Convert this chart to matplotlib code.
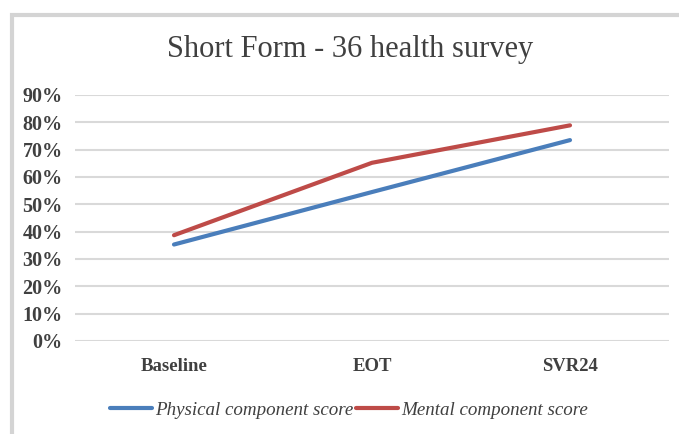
import matplotlib
matplotlib.use("Agg")
import matplotlib.pyplot as plt
from matplotlib.patches import Rectangle
from matplotlib.ticker import FuncFormatter

categories = ["Baseline", "EOT", "SVR24"]
physical = [0.353, 0.545, 0.735]
mental = [0.387, 0.652, 0.789]
yticks = [0.0, 0.1, 0.2, 0.3, 0.4, 0.5, 0.6, 0.7, 0.8, 0.9]

plt.rcParams['font.family'] = ['Liberation Serif', 'DejaVu Serif']

fig = plt.figure(figsize=(6.79, 4.34), dpi=100)
fig.patch.set_facecolor('white')

# chart-area frame (partially cropped)
fig.patches.append(Rectangle((12/679, -0.05), 1.2, 1 - 15/434 + 0.05,
                             transform=fig.transFigure, fill=False,
                             edgecolor='#D4D4D4', linewidth=3, zorder=0))

ax = fig.add_axes([75/679, 1 - 341/434, (669 - 75)/679, (341 - 95)/434])
x = list(range(len(categories)))
ax.plot(x, physical, color='#4A7EBB', lw=3, solid_capstyle='round',
        label='Physical component score', zorder=3)
ax.plot(x, mental, color='#BE4B48', lw=3, solid_capstyle='round',
        label='Mental component score', zorder=3)

ax.set_xlim(-0.5, 2.5)
ax.set_ylim(0, 0.9)
ax.set_yticks(yticks)
ax.yaxis.set_major_formatter(FuncFormatter(lambda v, p: f"{round(v*100)}%"))
ax.set_xticks(x)
ax.set_xticklabels(categories)
ax.grid(axis='y', color='#D9D9D9', lw=1.5)
ax.set_axisbelow(True)
for s in ax.spines.values():
    s.set_visible(False)
ax.tick_params(axis='both', length=0, colors='#404040', labelsize=13.5)
ax.tick_params(axis='y', pad=9)
ax.tick_params(axis='x', pad=12)
for lab in ax.get_xticklabels() + ax.get_yticklabels():
    lab.set_fontweight('bold')
    lab.set_color('#404040')
for lab in ax.get_yticklabels():
    lab.set_fontsize(14.5)

fig.text(350/679, 1 - 50/434, "Short Form - 36 health survey", ha='center',
         va='center', fontsize=22, color='#404040')

leg = fig.legend(loc='center', bbox_to_anchor=(349/679, 1 - 410/434), ncol=2,
                 frameon=False, handlelength=2.2, columnspacing=0.1,
                 handletextpad=0.2,
                 prop={'family': 'Liberation Serif', 'style': 'italic', 'size': 13.7})
for t in leg.get_texts():
    t.set_color('#404040')

fig.savefig("out.png", dpi=100, facecolor='white')
